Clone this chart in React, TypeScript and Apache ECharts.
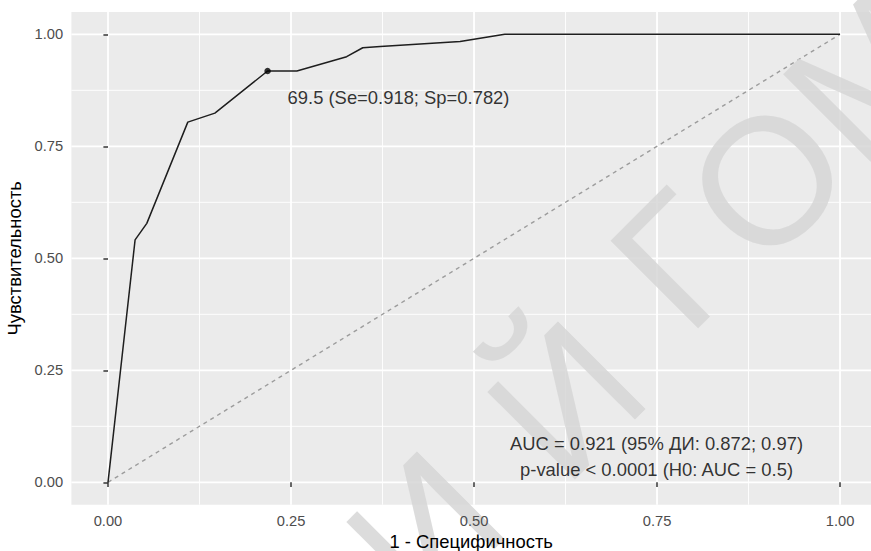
import React, { useEffect, useRef } from "react";
import * as echarts from "echarts";

// ---- data ----
const majorBreaks = [0, 0.25, 0.5, 0.75, 1];
const minorBreaks = [0.125, 0.375, 0.625, 0.875];
const axisMin = -0.05;
const xAxisMax = 1.0423; // panel is cropped at the right edge of the picture
const yAxisMax = 1.05;
const fpr = [0, 0.037, 0.053, 0.109, 0.146, 0.218, 0.258, 0.326, 0.348, 0.372, 0.481, 0.542, 1.0];
const tpr = [0, 0.541, 0.578, 0.804, 0.824, 0.918, 0.918, 0.95, 0.97, 0.973, 0.984, 1.0, 1.0];
const diagonalX = [0, 1];
const diagonalY = [0, 1];
const cutoffPoint = [0.218, 0.918];
const cutoffLabelPos = [0.246, 0.858];
const cutoffLabel = "69.5 (Se=0.918; Sp=0.782)";
const aucLabelPos = [0.75, 0.0565];
const aucLines = ["AUC = 0.921 (95% ДИ: 0.872; 0.97)", "p-value < 0.0001 (H0: AUC = 0.5)"];
const xTitle = "1 - Специфичность";
const yTitle = "Чувствительность";
const watermarkLetters = ["И", "Й", "Г", "О", "М"];

const FONT = '"Liberation Sans", Arial, sans-serif';

export default function App() {
  const ref = useRef<HTMLDivElement>(null);

  useEffect(() => {
    document.body.style.margin = "0";
    if (!ref.current) return;
    const chart = echarts.init(ref.current, undefined, { renderer: "svg" });

    const gridLine = (v: number, dir: "x" | "y", w: number) => ({
      type: "line",
      data: dir === "x" ? [[v, axisMin], [v, yAxisMax]] : [[axisMin, v], [xAxisMax, v]],
      symbol: "none",
      silent: true,
      z: 1,
      lineStyle: { color: "#ffffff", width: w },
    });

    const gridSeries: any[] = [];
    minorBreaks.forEach((v) => {
      gridSeries.push(gridLine(v, "x", 0.9));
      gridSeries.push(gridLine(v, "y", 0.9));
    });
    majorBreaks.forEach((v) => {
      gridSeries.push(gridLine(v, "x", 1.8));
      gridSeries.push(gridLine(v, "y", 1.8));
    });

    const axisCommon = {
      type: "value",
      min: axisMin,
      z: 10,
      axisLine: { show: false },
      splitLine: { show: false },
      axisTick: { show: true, customValues: majorBreaks, length: 4.6, lineStyle: { color: "#333333", width: 1.5 } },
      axisLabel: {
        customValues: majorBreaks,
        formatter: (v: number) => v.toFixed(2),
        color: "#4d4d4d",
        fontSize: 14.7,
        fontFamily: FONT,
        margin: 8.3,
      },
      nameLocation: "middle",
      nameTextStyle: { fontSize: 18.4, color: "#000000", fontFamily: FONT },
    };

    // watermark (background stamp of the source picture), letters on a 45° line
    const wmSize = 180;
    const ang = Math.PI / 4;
    const wmCentres = [
      [425, 530],
      [566, 400],
      [678, 260],
      [767, 180],
      [869, 75],
    ];
    const watermark = watermarkLetters.map((ch, i) => ({
      type: "text",
      x: wmCentres[i][0],
      y: wmCentres[i][1],
      rotation: ang,
      z: 4.5,
      silent: true,
      style: {
        text: ch,
        fontSize: wmSize,
        fontFamily: FONT,
        fill: "rgba(214,214,214,0.85)",
        align: "center",
        verticalAlign: "middle",
      },
    }));

    chart.setOption({
      animation: false,
      grid: {
        left: 71.4,
        top: 11.9,
        width: 799.6,
        height: 492.8,
        show: true,
        backgroundColor: "#ebebeb",
        borderWidth: 0,
        containLabel: false,
        outerBoundsMode: "none",
      },
      xAxis: { ...axisCommon, max: xAxisMax, name: xTitle, nameGap: 28 },
      yAxis: { ...axisCommon, max: yAxisMax, name: yTitle, nameGap: 44, nameRotate: 90 },
      series: [
        ...gridSeries,
        {
          type: "line",
          data: diagonalX.map((x, i) => [x, diagonalY[i]]),
          symbol: "none",
          silent: true,
          z: 2,
          lineStyle: { color: "#9c9c9c", width: 1.4, type: [4, 4] },
        },
        {
          type: "line",
          data: fpr.map((x, i) => [x, tpr[i]]),
          symbol: "none",
          silent: true,
          z: 3,
          lineStyle: { color: "#1e1e1e", width: 1.5 },
        },
        {
          type: "scatter",
          data: [cutoffPoint],
          symbol: "circle",
          symbolSize: 6.5,
          silent: true,
          z: 4,
          itemStyle: { color: "#000000" },
        },
        {
          type: "scatter",
          data: [cutoffLabelPos],
          symbolSize: 1,
          silent: true,
          z: 6,
          itemStyle: { color: "transparent" },
          label: {
            show: true,
            position: [0, 0],
            align: "left",
            verticalAlign: "middle",
            formatter: cutoffLabel,
            fontSize: 18.4,
            fontFamily: FONT,
            color: "#000000",
          },
        },
        {
          type: "scatter",
          data: [aucLabelPos],
          symbolSize: 1,
          silent: true,
          z: 6,
          itemStyle: { color: "transparent" },
          label: {
            show: true,
            position: [0, 0],
            align: "center",
            verticalAlign: "middle",
            formatter: aucLines.join("\n"),
            lineHeight: 25.5,
            fontSize: 18.4,
            fontFamily: FONT,
            color: "#000000",
          },
        },
      ],
      graphic: watermark,
    });

    return () => chart.dispose();
  }, []);

  return <div ref={ref} style={{ width: 871, height: 551 }} />;
}
